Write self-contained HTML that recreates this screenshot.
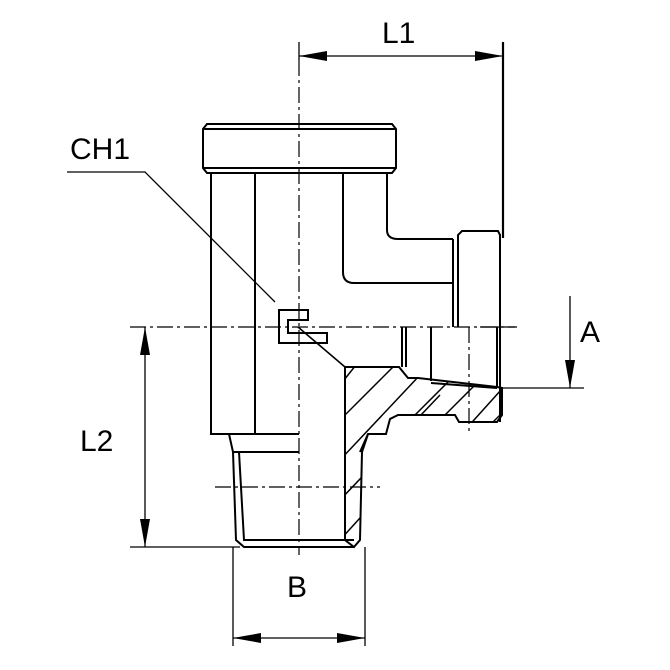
<!DOCTYPE html>
<html><head><meta charset="utf-8"><style>html,body{margin:0;padding:0;background:#fff}svg{display:block}</style></head><body>
<svg width="670" height="670" viewBox="0 0 670 670" xmlns="http://www.w3.org/2000/svg" font-family="Liberation Sans, sans-serif">
<defs>
<clipPath id="hc"><path d="M345,367 L399,367 L408,378 L418,378 L497,387 L502,388 L502,415 L497,422 L459,422 L455,415 L398,415 L390,419 L386,434 L368,434 L362,452 L360,540 L354,547 L345,540Z"/></clipPath>
</defs>
<g fill="none" stroke="#000" stroke-width="2">
<path d="M207,124 L392,124 L396,129 L396,168 L392,173 L207,173 L203,168 L203,129Z"/>
<line x1="204" y1="129" x2="395" y2="129"/><line x1="204" y1="168" x2="395" y2="168"/>
<path d="M211,173 L211,434 L299,434"/>
<line x1="255" y1="173" x2="255" y2="434"/>
<path d="M343,173 L343,272 Q343,283 354,283 L453,283"/>
<path d="M387,173 L387,230 Q387,239 398,239 L453,239"/>
<line x1="453" y1="239" x2="453" y2="327"/>
<path d="M458,327 L458,235 L462,231 L498,231 L500,235 L500,422"/>
<line x1="402" y1="327" x2="402" y2="367"/><line x1="406" y1="327" x2="406" y2="367"/>
<line x1="431" y1="327" x2="431" y2="381"/>
<line x1="497" y1="327" x2="497" y2="387"/>
<path d="M345,367 L399,367 L408,378 L418,378 L497,387 L502,388 L502,415 L497,422 L459,422 L455,415 L398,415 L390,419 L386,434 L368,434 L362,452 L360,540 L354,547 L345,540Z"/>
<path d="M431,383 L497,388"/>
<path d="M229,434 L233,452 L236,540 L244,547 L354,547"/>
<path d="M233,452 L239,452 L244,540 L354,540"/>
<line x1="239" y1="452" x2="299" y2="452"/>
<line x1="360" y1="452" x2="368" y2="434"/>
<path d="M279,310 L308,310 L308,320 L288,320 L288,333 L327,333 L327,343 L279,343Z"/>
<line x1="298" y1="327" x2="345" y2="367" stroke-width="1.6"/>
</g>
<g clip-path="url(#hc)" stroke="#000" stroke-width="1.5">
<line x1="340" y1="385" x2="360" y2="360"/>
<line x1="340" y1="420" x2="400" y2="360"/>
<line x1="340" y1="460" x2="420" y2="375"/>
<line x1="340" y1="500" x2="440" y2="395"/>
<line x1="340" y1="540" x2="440" y2="430"/>
<line x1="340" y1="580" x2="380" y2="540"/>
<line x1="400" y1="430" x2="460" y2="370"/>
<line x1="430" y1="430" x2="490" y2="370"/>
<line x1="465" y1="430" x2="510" y2="380"/>
<line x1="490" y1="425" x2="510" y2="405"/>
</g>
<g stroke="#000" stroke-width="1.2" fill="none" stroke-dasharray="16,4,3,4">
<line x1="299" y1="60" x2="299" y2="555"/>
<line x1="130" y1="327" x2="515" y2="327"/>
<line x1="215" y1="487" x2="380" y2="487"/>
<line x1="469" y1="327" x2="469" y2="435"/>
</g>
<g stroke="#000" stroke-width="1.3" fill="none">
<line x1="299" y1="42" x2="299" y2="60"/>
<line x1="503" y1="42" x2="503" y2="238" stroke-width="2.2"/>
<line x1="299" y1="56" x2="503" y2="56"/>
<line x1="130" y1="547" x2="240" y2="547"/>
<line x1="145" y1="327" x2="145" y2="547"/>
<line x1="233" y1="547" x2="233" y2="646"/><line x1="365" y1="547" x2="365" y2="646"/>
<line x1="233" y1="638" x2="365" y2="638"/>
<line x1="500" y1="388" x2="584" y2="388"/>
<line x1="570" y1="296" x2="570" y2="388"/>
<line x1="480" y1="327" x2="517" y2="327"/>
<path d="M67,172 L145,172 L275,302"/>
</g>
<g fill="#000">
<path d="M299,56 L327,51 L327,61Z"/>
<path d="M503,56 L475,51 L475,61Z"/>
<path d="M145,327 L140,355 L150,355Z"/>
<path d="M145,547 L140,519 L150,519Z"/>
<path d="M233,638 L261,633 L261,643Z"/>
<path d="M365,638 L337,633 L337,643Z"/>
<path d="M570,388 L565,360 L575,360Z"/>
</g>
<g font-size="30" fill="#000">
<text x="382" y="43">L1</text>
<text x="70" y="159">CH1</text>
<text x="80" y="451">L2</text>
<text x="287" y="597">B</text>
<text x="580" y="342">A</text>
</g>
</svg>
</body></html>
